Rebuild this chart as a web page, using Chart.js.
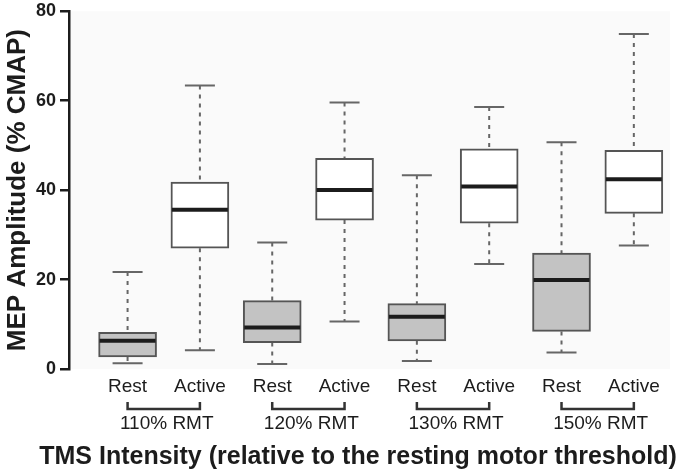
<!DOCTYPE html>
<html>
<head>
<meta charset="utf-8">
<script src="https://cdn.jsdelivr.net/npm/chart.js@4.4.1/dist/chart.umd.min.js"></script>
<style>
  html, body { margin: 0; padding: 0; background: #fff; }
  #wrap { width: 679px; height: 474px; }
</style>
</head>
<body>
<div id="wrap"><canvas id="boxChart"></canvas></div>
<script>
// ===== Data =====
const positions = [1, 2, 3, 4, 5, 6, 7, 8];
const conditions = ['Rest', 'Active', 'Rest', 'Active', 'Rest', 'Active', 'Rest', 'Active'];
const groups = ['110% RMT', '120% RMT', '130% RMT', '150% RMT'];
const whiskerLow = [1.3, 4.2, 1.1, 10.6, 1.8, 23.5, 3.7, 27.6];
const q1 = [2.7, 27.0, 5.9, 33.3, 6.3, 32.6, 8.4, 34.8];
const medians = [6.3, 35.6, 9.3, 40.0, 11.7, 40.8, 19.9, 42.4];
const q3 = [8.2, 41.8, 15.3, 47.1, 14.6, 49.2, 25.9, 48.9];
const whiskerHigh = [21.7, 63.4, 28.3, 59.6, 43.3, 58.6, 50.7, 74.9];
const yTicks = [0, 20, 40, 60, 80];
const xTitle = 'TMS Intensity (relative to the resting motor threshold)';

const INK = '#1c1c1c';
const BOX_EDGE = '#555555';
const FONT = '"Liberation Sans", Arial, sans-serif';

// whiskers, caps, medians, group brackets and the x title, placed through the scales
const boxExtras = {
    id: 'boxExtras',
    beforeDraw(chart) {
        const { ctx, chartArea: a } = chart;
        ctx.save();
        ctx.fillStyle = '#fafafa';
        ctx.fillRect(a.left, a.top, a.right - a.left, a.bottom - a.top);
        ctx.restore();
    },
    beforeDatasetsDraw(chart) {
        const { ctx, scales: { x, y } } = chart;
        const capHalf = 15;
        ctx.save();
        ctx.strokeStyle = '#666';
        positions.forEach((p, i) => {
            const px = x.getPixelForValue(p);
            ctx.lineWidth = 2;
            ctx.setLineDash([4, 5]);
            ctx.beginPath();
            ctx.moveTo(px, y.getPixelForValue(whiskerHigh[i]));
            ctx.lineTo(px, y.getPixelForValue(q3[i]));
            ctx.moveTo(px, y.getPixelForValue(q1[i]));
            ctx.lineTo(px, y.getPixelForValue(whiskerLow[i]));
            ctx.stroke();
            ctx.setLineDash([]);
            ctx.beginPath();
            [whiskerHigh[i], whiskerLow[i]].forEach(v => {
                const py = y.getPixelForValue(v);
                ctx.moveTo(px - capHalf, py);
                ctx.lineTo(px + capHalf, py);
            });
            ctx.stroke();
        });
        ctx.restore();
    },
    afterDatasetsDraw(chart) {
        const { ctx, scales: { x, y } } = chart;
        const meta = chart.getDatasetMeta(0);
        ctx.save();
        ctx.strokeStyle = INK;
        ctx.lineWidth = 4;
        positions.forEach((p, i) => {
            const bar = meta.data[i];
            const half = bar.width / 2 - 1;
            const py = y.getPixelForValue(medians[i]);
            ctx.beginPath();
            ctx.moveTo(bar.x - half, py);
            ctx.lineTo(bar.x + half, py);
            ctx.stroke();
        });

        // group brackets under each Rest/Active pair
        const top = chart.chartArea.bottom + 33;
        const bottom = top + 7;
        ctx.lineWidth = 2.5;
        ctx.strokeStyle = '#333';
        ctx.fillStyle = INK;
        ctx.font = '19px ' + FONT;
        ctx.textAlign = 'center';
        ctx.textBaseline = 'middle';
        groups.forEach((g, k) => {
            const x1 = x.getPixelForValue(positions[2 * k]);
            const x2 = x.getPixelForValue(positions[2 * k + 1]);
            ctx.beginPath();
            ctx.moveTo(x1, top);
            ctx.lineTo(x1, bottom);
            ctx.lineTo(x2, bottom);
            ctx.lineTo(x2, top);
            ctx.stroke();
            ctx.fillText(g, (x1 + x2) / 2 + 3, bottom + 15);
        });

        // axis title, set a little left of the plot centre as in the figure
        ctx.font = 'bold 25px ' + FONT;
        ctx.fillText(xTitle, 358, chart.chartArea.bottom + 88);
        ctx.restore();
    }
};

new Chart(document.getElementById('boxChart'), {
    type: 'bar',
    data: {
        datasets: [{
            data: positions.map((p, i) => ({ x: p, y: [q1[i], q3[i]] })),
            backgroundColor: conditions.map(c => c === 'Rest' ? '#c3c3c3' : '#ffffff'),
            borderColor: BOX_EDGE,
            borderWidth: 2,
            borderSkipped: false,
            barThickness: 58
        }]
    },
    options: {
        responsive: true,
        maintainAspectRatio: false,
        animation: false,
        layout: { padding: { top: 0, right: 9, left: 0, bottom: 0 } },
        plugins: {
            legend: { display: false },
            tooltip: { enabled: false }
        },
        scales: {
            x: {
                type: 'linear',
                offset: false,
                min: 0.19,
                max: 8.5,
                afterBuildTicks: (s) => { s.ticks = positions.map(v => ({ value: v })); },
                afterFit: (s) => { s.height = 105; },
                border: { display: false },
                grid: { display: false, drawTicks: false },
                ticks: {
                    color: INK,
                    padding: 6,
                    maxRotation: 0,
                    autoSkip: false,
                    font: { family: FONT, size: 19 },
                    callback: (v) => conditions[positions.indexOf(v)] || ''
                }
            },
            y: {
                min: 0,
                max: 80,
                afterBuildTicks: (s) => { s.ticks = yTicks.map(v => ({ value: v })); },
                afterFit: (s) => { s.width = 69; },
                border: { display: true, color: INK, width: 2.5 },
                grid: {
                    drawOnChartArea: false,
                    drawTicks: true,
                    tickLength: 9,
                    tickColor: INK,
                    lineWidth: 2.5
                },
                ticks: {
                    color: INK,
                    padding: 4,
                    font: { family: FONT, size: 18, weight: 'bold', lineHeight: 0.8 }
                },
                title: {
                    display: true,
                    text: 'MEP Amplitude (% CMAP)',
                    color: INK,
                    padding: { top: 2, bottom: 0 },
                    font: { family: FONT, size: 26, weight: 'bold' }
                }
            }
        }
    },
    plugins: [boxExtras]
});
</script>
</body>
</html>
